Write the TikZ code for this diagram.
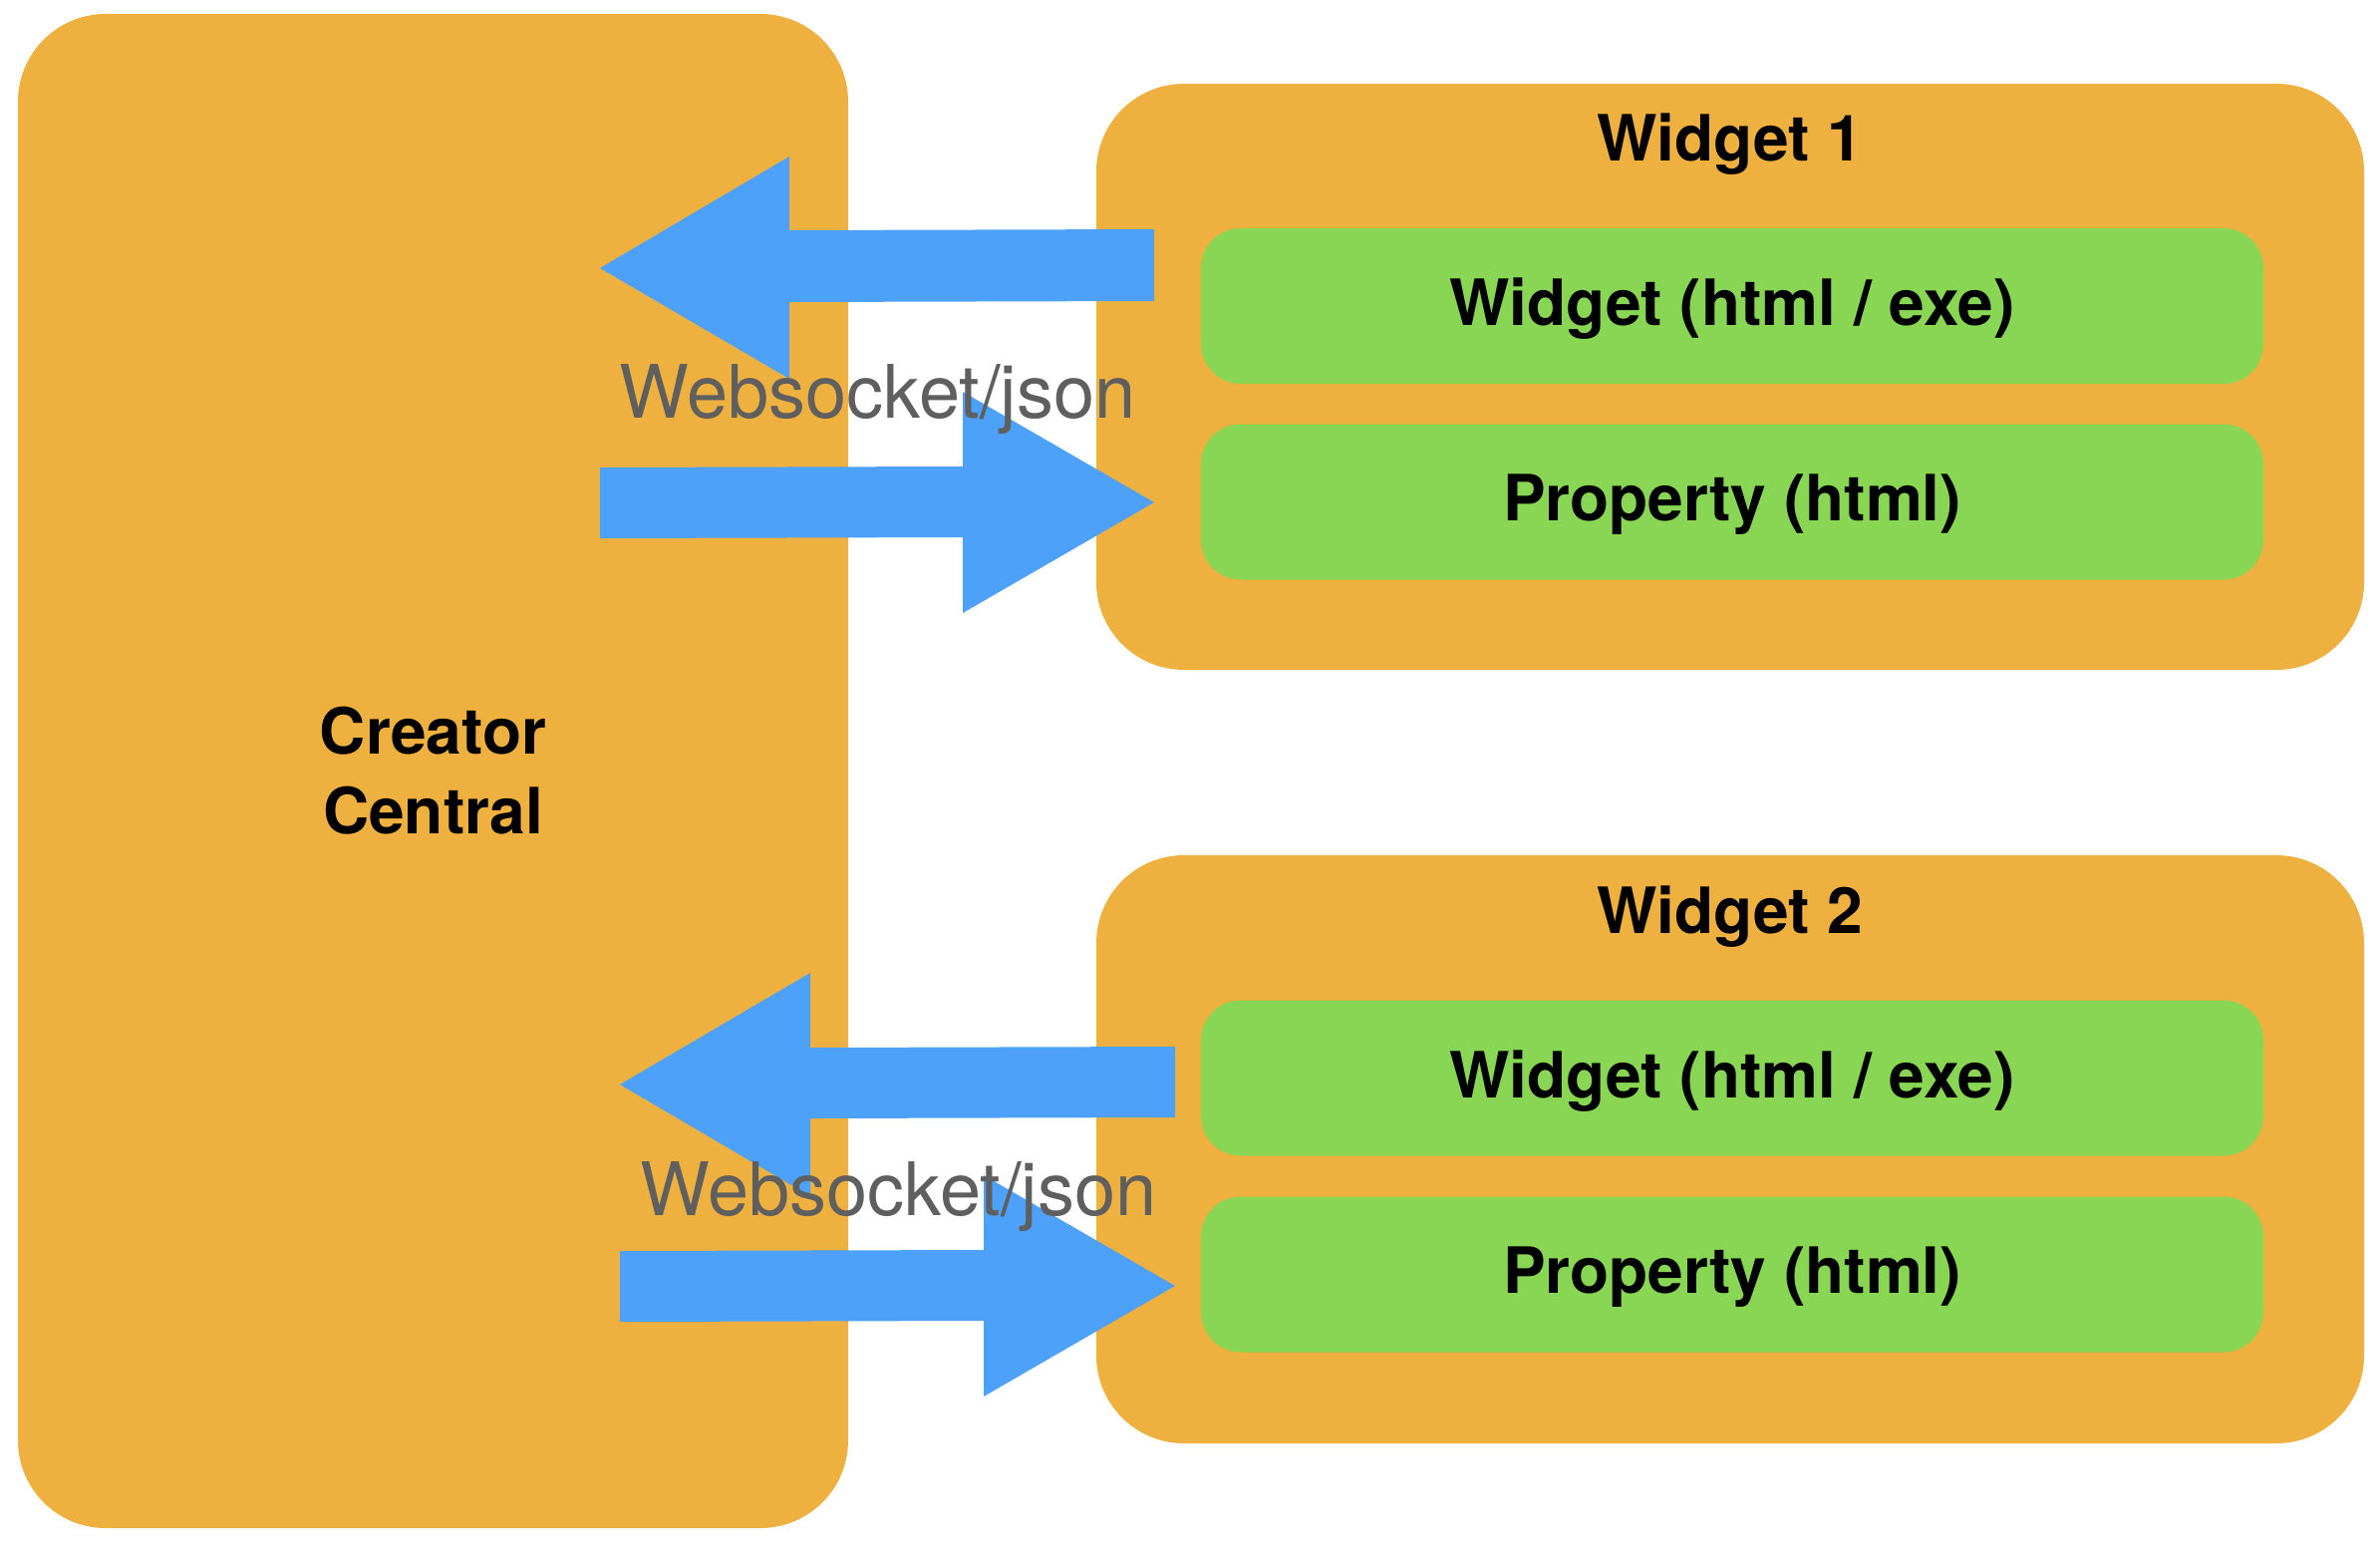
\documentclass[tikz,border=0pt]{standalone}
\usepackage{fontspec}
\setmainfont{TeX Gyre Heros}
\definecolor{boxorange}{RGB}{238,176,62}
\definecolor{boxgreen}{RGB}{136,214,84}
\definecolor{arrowblue}{RGB}{77,161,249}
\definecolor{labelgray}{RGB}{95,95,95}
\tikzset{
  bigbox/.style={fill=boxorange, draw=none, rounded corners=44pt, inner sep=0pt},
  innerbox/.style={fill=boxgreen, draw=none, rounded corners=20pt, inner sep=0pt,
    minimum width=533pt, minimum height=78pt, text depth=4pt,
    font=\fontsize{32}{38}\selectfont\bfseries},
  titletext/.style={inner sep=0pt, anchor=base, font=\fontsize{32}{38}\selectfont\bfseries},
  blockarrow/.style={fill=arrowblue, draw=none},
  linklabel/.style={inner sep=0pt, anchor=base west, text=labelgray,
    font=\fontsize{37}{43}\selectfont}
}
\begin{document}
\begin{tikzpicture}[x=0.5pt,y=-0.5pt]
\useasboundingbox (0,0) rectangle (2388,1554);
% boxes
\node[bigbox, minimum width=416.5pt, minimum height=759.5pt, align=center,
  font=\fontsize{32}{40}\selectfont\bfseries] (cc) at (434.5,773.5) {Creator\\Central};
\node[bigbox, minimum width=636pt, minimum height=294pt] (w1) at (1736,378) {};
\node[bigbox, minimum width=636pt, minimum height=295pt] (w2) at (1736,1153) {};
\node[titletext] (w1t) at (1736,161) {Widget 1};
\node[titletext] (w2t) at (1736,936) {Widget 2};
\node[innerbox] (w1a) at (1738,307) {Widget (html / exe)};
\node[innerbox] (w1b) at (1738,503.5) {Property (html)};
\node[innerbox] (w2a) at (1738,1081.5) {Widget (html / exe)};
\node[innerbox] (w2b) at (1738,1278.5) {Property (html)};
% block arrows
\fill[blockarrow] (602,269) -- (792,157) -- (792,231) -- (1158,230) -- (1158,302) -- (792,303) -- (792,380) -- cycle;
\fill[blockarrow] (1158,504) -- (966,393) -- (966,468) -- (602,469) -- (602,540) -- (966,539) -- (966,615) -- cycle;
\fill[blockarrow] (622,1088) -- (813,976) -- (813,1051) -- (1179,1050) -- (1179,1121) -- (813,1122) -- (813,1200) -- cycle;
\fill[blockarrow] (1179,1290) -- (987,1179) -- (987,1254) -- (622,1255) -- (622,1326) -- (987,1325) -- (987,1401) -- cycle;
% labels
\node[linklabel] (l1) at (621,419) {Websocket/json};
\node[linklabel] (l2) at (642,1219) {Websocket/json};
\end{tikzpicture}
\end{document}
